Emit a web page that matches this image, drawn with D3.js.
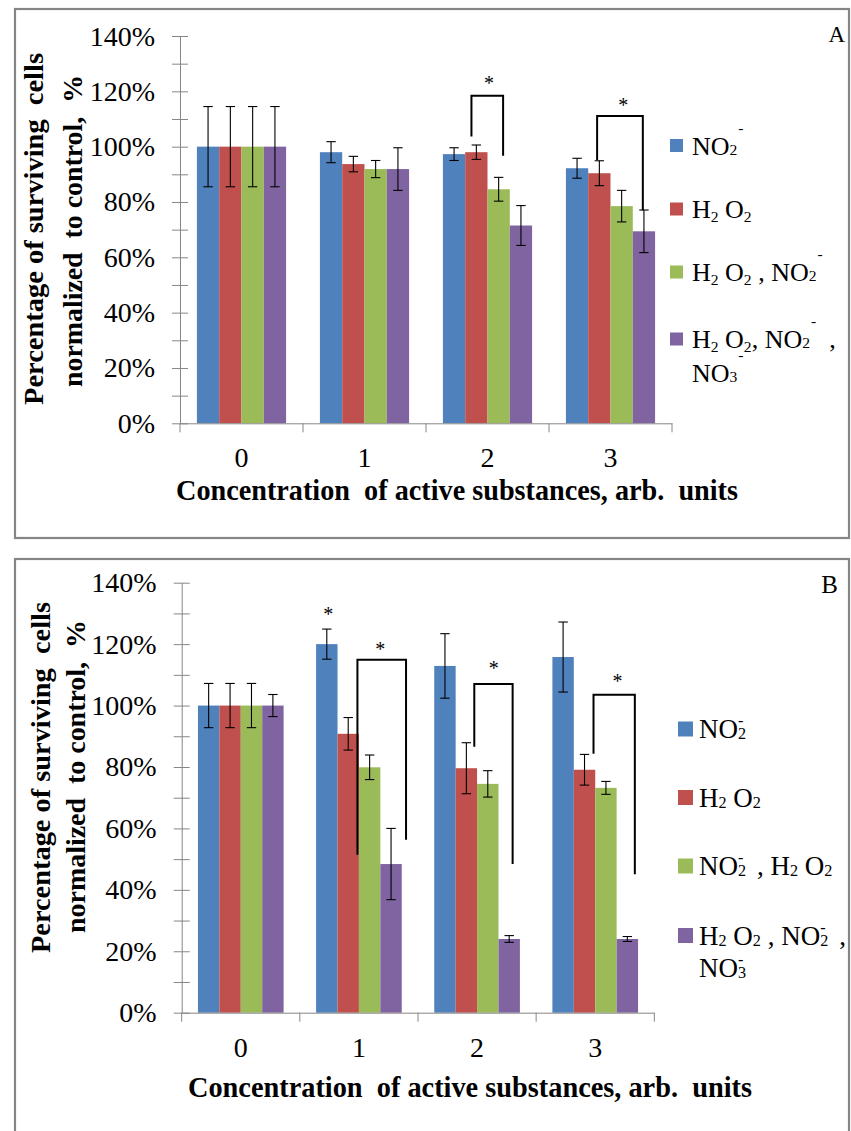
<!DOCTYPE html>
<html>
<head>
<meta charset="utf-8">
<script src="https://cdn.jsdelivr.net/npm/d3@7"></script>
<style>
  body { margin: 0; background: #fff; }
  svg { display: block; }
</style>
</head>
<body>
<svg id="chart" width="851" height="1131"></svg>
<script>
// ---------- shared data ----------
const categories = ["0", "1", "2", "3"];
const yTicks = [0, 10, 20, 30, 40, 50, 60, 70, 80, 90, 100, 110, 120, 130, 140];
const yTickLabels = { 0: "0%", 20: "20%", 40: "40%", 60: "60%", 80: "80%", 100: "100%", 120: "120%", 140: "140%" };
const seriesColors = ["#4F81BD", "#C0504D", "#9BBB59", "#8064A2"];
const xTitle = "Concentration  of active substances, arb.  units";
const yTitle1 = "Percentage of surviving  cells";
const yTitle2 = "normalized  to control,  %";

// ---------- panel A: means (%) and error half-widths ----------
const aNO2      = [100, 98.0, 97.3, 92.2];
const aNO2Err   = [14.5, 3.8, 2.3, 3.6];
const aH2O2     = [100, 93.7, 98.0, 90.4];
const aH2O2Err  = [14.5, 2.8, 2.6, 4.5];
const aMix2     = [100, 91.9, 84.6, 78.5];
const aMix2Err  = [14.5, 3.1, 4.3, 5.7];
const aMix3     = [100, 91.9, 71.5, 69.4];
const aMix3Err  = [14.5, 7.7, 7.2, 7.7];

// significance brackets: category, leg positions in bar slots, levels in %
const aBrackets = [
  { cat: "2", left: 1.28, right: 2.70, top: 118.4, leftEnd: 103.7, rightEnd: 96.7, star: 124.2, starAt: 2.07 },
  { cat: "3", left: 1.40, right: 3.45, top: 111.1, leftEnd: 95.2, rightEnd: 77.0, star: 116.3, starAt: 2.57 }
];
const aStars = [];

// legend labels: lines of [text, kind] parts
const aLegend = [
  [[["NO", "n"], ["2", "ion"], ["-", "sup"]]],
  [[["H", "n"], ["2", "sub"], [" O", "n"], ["2", "sub"]]],
  [[["H", "n"], ["2", "sub"], [" O", "n"], ["2", "sub"], [" , NO", "n"], ["2", "ion"], ["-", "sup"]]],
  [[["H", "n"], ["2", "sub"], [" O", "n"], ["2", "sub"], [", NO", "n"], ["2", "ion"], ["-", "sup"], ["  ,", "n"]],
   [["NO", "n"], ["3", "ion"], ["-", "sup"]]]
];

// ---------- panel B ----------
const bNO2      = [100, 120.0, 112.9, 115.8];
const bNO2Err   = [7.2, 4.9, 10.5, 11.4];
const bH2O2     = [100, 90.8, 79.6, 79.1];
const bH2O2Err  = [7.2, 5.3, 8.3, 5.0];
const bMix2     = [100, 79.9, 74.5, 73.2];
const bMix2Err  = [7.2, 4.0, 4.3, 2.1];
const bMix3     = [100, 48.4, 24.0, 24.0];
const bMix3Err  = [3.6, 11.6, 1.1, 0.8];

const bBrackets = [
  { cat: "1", left: 1.93, right: 4.20, top: 114.9, leftEnd: 51.4, rightEnd: 56.3, star: 119.4, starAt: 2.99 },
  { cat: "2", left: 1.87, right: 3.66, top: 107.0, leftEnd: 86.6, rightEnd: 48.4, star: 113.3, starAt: 2.78 },
  { cat: "3", left: 1.92, right: 3.85, top: 103.5, leftEnd: 84.3, rightEnd: 45.1, star: 108.9, starAt: 3.04 }
];
const bStars = [{ cat: "1", at: 0.57, level: 130.9 }];

const bLegend = [
  [[["NO", "n"], ["2", "ion"], ["-", "sup"]]],
  [[["H", "n"], ["2", "ion"], [" O", "n"], ["2", "ion"]]],
  [[["NO", "n"], ["2", "ion"], ["-", "sup"], ["  , H", "n"], ["2", "ion"], [" O", "n"], ["2", "ion"]]],
  [[["H", "n"], ["2", "ion"], [" O", "n"], ["2", "ion"], [" , NO", "n"], ["2", "ion"], ["-", "sup"], ["  ,", "n"]],
   [["NO", "n"], ["3", "ion"], ["-", "sup"]]]
];

// ---------- drawing ----------
const FONT = "Liberation Serif";
const AXIS = "#868686";
const svg = d3.select("#chart");
svg.append("rect").attr("width", 851).attr("height", 1131).attr("fill", "#fff");

// one legend line with sub/superscript parts
function richLine(textSel, parts, fs, st) {
  let shift = 0;
  parts.forEach(([t, kind]) => {
    const small = kind !== "n";
    const target = kind === "sub" ? st.subDrop : kind === "ion" ? st.ionDrop : kind === "sup" ? -st.supRise : 0;
    const ts = textSel.append("tspan")
      .attr("dy", target - shift)
      .attr("font-size", small ? fs * 0.6 : fs)
      .attr("font-family", FONT)
      .style("white-space", "pre")
      .text(t);
    if (kind === "sup") ts.attr("dx", st.supDx);
    shift = target;
  });
}

function drawPanel(p) {
  const g = svg.append("g").attr("font-family", FONT).attr("fill", "#000");

  g.append("rect")
    .attr("x", p.frame[0]).attr("y", p.frame[1])
    .attr("width", p.frame[2]).attr("height", p.frame[3])
    .attr("fill", "none").attr("stroke", "#858585").attr("stroke-width", 2.2);

  const x0 = d3.scaleBand().domain(categories).range(p.xRange);
  const x1 = d3.scaleBand().domain(d3.range(p.values.length))
    .range([x0.bandwidth() * 0.1375, x0.bandwidth() * 0.8625]);
  const y = d3.scaleLinear().domain([0, 140]).range(p.yRange);
  const bw = x1.bandwidth();

  // bars
  const groups = g.append("g").selectAll("g")
    .data(categories)
    .join("g")
    .attr("transform", c => `translate(${x0(c)},0)`);

  groups.selectAll("rect")
    .data((c, j) => p.values.map((s, i) => ({ i, v: s[j], e: p.errors[i][j] })))
    .join("rect")
    .attr("x", d => x1(d.i))
    .attr("width", bw)
    .attr("y", d => y(d.v))
    .attr("height", d => y(0) - y(d.v))
    .attr("fill", d => seriesColors[d.i]);

  // y axis with crossing tick marks
  const ya = g.append("g")
    .attr("transform", `translate(${p.xRange[0]},0)`)
    .call(d3.axisLeft(y).tickValues(yTicks).tickSizeInner(8).tickSizeOuter(0)
      .tickPadding(17).tickFormat(v => yTickLabels[v] || ""));
  ya.attr("font-family", FONT).attr("font-size", 28);
  ya.select(".domain").attr("stroke", AXIS);
  ya.selectAll(".tick line").attr("x1", -8).attr("x2", 8).attr("stroke", AXIS);
  ya.selectAll(".tick text").attr("dy", 9).attr("fill", "#000").attr("font-family", FONT);

  // x axis: labels at centres, ticks at category boundaries
  const xa = g.append("g")
    .attr("transform", `translate(0,${p.yRange[0]})`)
    .call(d3.axisBottom(x0).tickSize(0));
  xa.attr("font-family", FONT).attr("font-size", 28);
  xa.select(".domain").attr("stroke", AXIS);
  xa.selectAll(".tick text").attr("y", p.catLabelDrop).attr("dy", 0).attr("fill", "#000").attr("font-family", FONT);
  xa.selectAll(".bound")
    .data(categories.map(c => x0(c)).concat([p.xRange[1]]))
    .join("line").attr("class", "bound")
    .attr("x1", d => d).attr("x2", d => d)
    .attr("y1", 0).attr("y2", 9).attr("stroke", AXIS);

  // error bars
  const eb = groups.selectAll("g.err")
    .data((c, j) => p.values.map((s, i) => ({ i, v: s[j], e: p.errors[i][j] })))
    .join("g").attr("class", "err")
    .attr("stroke", "#000").attr("stroke-width", 1.1);
  eb.append("line")
    .attr("x1", d => x1(d.i) + bw / 2).attr("x2", d => x1(d.i) + bw / 2)
    .attr("y1", d => y(d.v + d.e)).attr("y2", d => y(d.v - d.e));
  eb.append("line")
    .attr("x1", d => x1(d.i) + bw / 2 - 4.7).attr("x2", d => x1(d.i) + bw / 2 + 4.7)
    .attr("y1", d => y(d.v + d.e)).attr("y2", d => y(d.v + d.e));
  eb.append("line")
    .attr("x1", d => x1(d.i) + bw / 2 - 4.7).attr("x2", d => x1(d.i) + bw / 2 + 4.7)
    .attr("y1", d => y(d.v - d.e)).attr("y2", d => y(d.v - d.e));

  // significance brackets
  const slotX = (cat, s) => x0(cat) + x1(0) + s * bw;
  g.append("g").selectAll("path")
    .data(p.brackets)
    .join("path")
    .attr("d", b => d3.line()([
      [slotX(b.cat, b.left), y(b.leftEnd)],
      [slotX(b.cat, b.left), y(b.top)],
      [slotX(b.cat, b.right), y(b.top)],
      [slotX(b.cat, b.right), y(b.rightEnd)]
    ]))
    .attr("fill", "none").attr("stroke", "#000").attr("stroke-width", 2);

  const starData = p.brackets.map(b => ({ cat: b.cat, at: b.starAt, level: b.star })).concat(p.stars);
  g.append("g").selectAll("text")
    .data(starData)
    .join("text")
    .attr("x", d => slotX(d.cat, d.at))
    .attr("y", d => y(d.level) + 10)
    .attr("text-anchor", "middle")
    .attr("font-family", FONT)
    .attr("font-size", 20)
    .text("*");

  // panel letter
  g.append("text")
    .attr("x", p.letterPos[0]).attr("y", p.letterPos[1])
    .attr("text-anchor", "end").attr("font-size", p.letterSize)
    .attr("font-family", FONT)
    .text(p.letter);

  // axis titles
  g.append("text")
    .attr("x", p.xTitlePos[0]).attr("y", p.xTitlePos[1])
    .attr("text-anchor", "middle").attr("font-weight", "bold").attr("font-size", 29)
    .attr("font-family", FONT)
    .attr("textLength", p.xTitleLen).attr("lengthAdjust", "spacingAndGlyphs")
    .style("white-space", "pre")
    .text(xTitle);
  p.yTitles.forEach((t, k) => {
    g.append("text")
      .attr("transform", `translate(${t.x},${t.cy}) rotate(-90)`)
      .attr("text-anchor", "middle").attr("font-weight", "bold").attr("font-size", 28)
      .attr("font-family", FONT)
      .attr("textLength", t.len).attr("lengthAdjust", "spacingAndGlyphs")
      .style("white-space", "pre")
      .text(k === 0 ? yTitle1 : yTitle2);
  });

  // legend
  const L = p.legend;
  p.legendLabels.forEach((lines, i) => {
    const base = L.baselines[i];
    g.append("rect")
      .attr("x", L.x).attr("y", base - L.boxTop)
      .attr("width", L.box).attr("height", L.box)
      .attr("fill", seriesColors[i]);
    lines.forEach((parts, k) => {
      const t = g.append("text")
        .attr("x", L.textX).attr("y", base + k * L.lineGap)
        .attr("font-family", FONT)
        .attr("font-size", L.fs);
      richLine(t, parts, L.fs, L);
    });
  });
}

drawPanel({
  values: [aNO2, aH2O2, aMix2, aMix3],
  errors: [aNO2Err, aH2O2Err, aMix2Err, aMix3Err],
  brackets: aBrackets, stars: aStars,
  frame: [15, 9, 834, 529],
  xRange: [180, 672], yRange: [423.3, 36],
  catLabelDrop: 44,
  letter: "A", letterPos: [845, 42], letterSize: 23,
  xTitlePos: [457, 500], xTitleLen: 562,
  yTitles: [{ x: 43, cy: 229, len: 352 }, { x: 82, cy: 231, len: 312 }],
  legendLabels: aLegend,
  legend: { x: 670, box: 13, boxTop: 15.5, textX: 692, baselines: [154.5, 218, 281, 348],
            lineGap: 34, fs: 26, subDrop: 4, ionDrop: 0, supRise: 22, supDx: 1 }
});

drawPanel({
  values: [bNO2, bH2O2, bMix2, bMix3],
  errors: [bNO2Err, bH2O2Err, bMix2Err, bMix3Err],
  brackets: bBrackets, stars: bStars,
  frame: [15, 559, 834, 600],
  xRange: [181.7, 654.3], yRange: [1012.7, 582.7],
  catLabelDrop: 44,
  letter: "B", letterPos: [838, 593], letterSize: 25,
  xTitlePos: [470, 1097], xTitleLen: 564,
  yTitles: [{ x: 50, cy: 777.5, len: 351 }, { x: 85, cy: 776.5, len: 313 }],
  legendLabels: bLegend,
  legend: { x: 678, box: 15, boxTop: 16.5, textX: 699, baselines: [738, 806.5, 875, 944.5],
            lineGap: 32, fs: 27, subDrop: 0, ionDrop: 1, supRise: 12, supDx: -8 }
});
</script>
</body>
</html>
